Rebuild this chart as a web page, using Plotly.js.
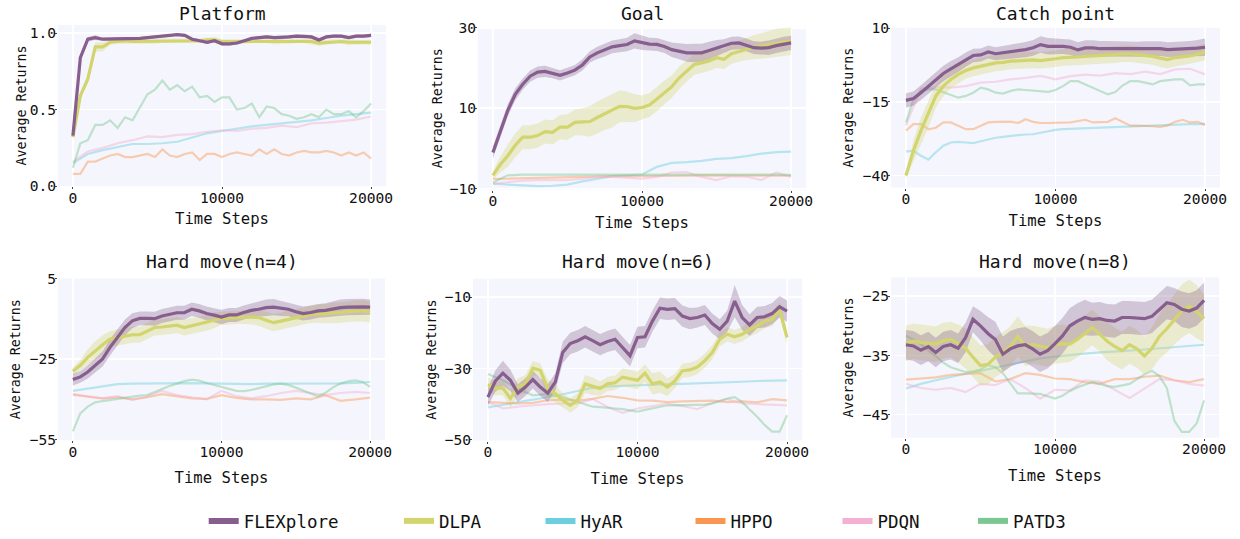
<!DOCTYPE html>
<html>
<head>
<meta charset="utf-8">
<script src="https://cdn.plot.ly/plotly-3.0.1.min.js"></script>
<style>
html,body{margin:0;padding:0;background:#ffffff;}
#chart{width:1240px;height:539px;}
</style>
</head>
<body>
<div id="chart"></div>
<script>
// ---------------- data ----------------
const steps500 = [0,500,1000,1500,2000,2500,3000,3500,4000,4500,5000,5500,6000,6500,7000,7500,8000,8500,9000,9500,10000,10500,11000,11500,12000,12500,13000,13500,14000,14500,15000,15500,16000,16500,17000,17500,18000,18500,19000,19500,20000];
const steps1000 = [0,1000,2000,3000,4000,5000,6000,7000,8000,9000,10000,11000,12000,13000,14000,15000,16000,17000,18000,19000,20000];
const methods = ['FLEXplore','DLPA','HyAR','HPPO','PDQN','PATD3'];
const panelTitles = ['Platform','Goal','Catch point','Hard move(n=4)','Hard move(n=6)','Hard move(n=8)'];
const xTickVals = [0,10000,20000];
const yTickVals = [[0,0.5,1.0],[-10,10,30],[-40,-15,10],[-55,-25,5],[-50,-30,-10],[-45,-35,-25]];

// Platform
const platformFlex = [0.33,0.84,0.96,0.97,0.96,0.96,0.965,0.965,0.965,0.965,0.97,0.975,0.98,0.985,0.99,0.985,0.96,0.95,0.94,0.95,0.93,0.93,0.935,0.95,0.965,0.97,0.975,0.97,0.97,0.975,0.98,0.98,0.975,0.955,0.975,0.98,0.98,0.97,0.98,0.98,0.985];
const platformFlexStd = [0.01,0.02,0.015,0.015,0.01,0.01,0.01,0.01,0.01,0.01,0.01,0.01,0.01,0.01,0.008,0.01,0.01,0.01,0.01,0.01,0.012,0.012,0.012,0.01,0.01,0.01,0.01,0.01,0.01,0.01,0.01,0.01,0.01,0.012,0.01,0.01,0.01,0.01,0.01,0.01,0.01];
const platformDlpa = [0.32,0.59,0.70,0.91,0.91,0.94,0.945,0.95,0.945,0.945,0.945,0.945,0.95,0.95,0.95,0.95,0.95,0.95,0.955,0.955,0.945,0.945,0.945,0.945,0.95,0.95,0.95,0.945,0.945,0.945,0.95,0.95,0.945,0.935,0.94,0.945,0.945,0.94,0.94,0.94,0.94];
const platformDlpaStd = [0.01,0.02,0.02,0.03,0.03,0.015,0.015,0.02,0.015,0.015,0.015,0.015,0.015,0.015,0.015,0.015,0.015,0.015,0.015,0.02,0.015,0.015,0.015,0.015,0.015,0.015,0.015,0.02,0.015,0.015,0.015,0.015,0.02,0.02,0.015,0.015,0.015,0.02,0.015,0.015,0.015];
const platformHyar = [0.15,0.21,0.235,0.255,0.275,0.275,0.28,0.29,0.32,0.345,0.36,0.375,0.39,0.40,0.41,0.42,0.43,0.445,0.46,0.47,0.48];
const platformHppo = [0.08,0.08,0.16,0.16,0.18,0.20,0.21,0.19,0.19,0.20,0.21,0.19,0.24,0.20,0.19,0.21,0.22,0.17,0.21,0.21,0.19,0.21,0.22,0.21,0.20,0.24,0.21,0.24,0.21,0.20,0.22,0.23,0.22,0.22,0.23,0.22,0.20,0.22,0.20,0.22,0.18];
const platformPdqn = [0.16,0.226,0.25,0.28,0.30,0.325,0.32,0.335,0.34,0.355,0.365,0.36,0.375,0.38,0.395,0.385,0.41,0.415,0.425,0.435,0.455];
const platformPatd3 = [0.12,0.28,0.30,0.40,0.40,0.43,0.38,0.45,0.43,0.52,0.60,0.63,0.69,0.63,0.66,0.62,0.65,0.58,0.59,0.55,0.58,0.58,0.50,0.51,0.54,0.45,0.52,0.51,0.47,0.46,0.44,0.45,0.47,0.45,0.50,0.47,0.47,0.49,0.45,0.49,0.54];

// Goal
const goalFlex = [-1.0,4.5,9.5,13.5,16.0,18.0,19.0,19.2,18.8,18.2,18.8,19.5,20.8,22.8,23.8,24.5,25.3,25.6,25.9,26.8,26.3,26.0,25.9,25.4,24.6,24.2,23.8,23.8,23.8,24.4,25.0,25.4,26.2,26.3,25.8,25.1,25.0,25.1,25.6,26.0,26.3];
const goalFlexStd = [1.5,1.5,1.5,1.5,1.4,1.4,1.4,1.4,1.3,1.3,1.3,1.3,1.4,1.4,1.5,1.6,1.6,1.6,1.7,1.9,1.8,1.6,1.6,1.6,1.8,2.0,2.2,2.3,2.3,2.2,2.0,1.8,1.6,1.6,1.6,1.6,1.6,1.8,1.8,1.8,1.8];
const goalDlpa = [-6.7,-4.0,-1.8,0.8,2.8,2.8,3.2,4.2,4.0,5.3,5.3,6.5,6.6,6.7,7.7,8.6,9.4,10.5,10.4,10.0,10.2,10.8,12.3,13.9,15.4,17.6,19.3,20.9,21.3,21.8,22.6,22.2,23.6,24.2,24.8,25.2,25.5,25.9,26.3,26.5,26.7];
const goalDlpaStd = [1.0,2.0,2.8,3.0,3.0,3.0,3.0,3.0,3.0,3.0,3.2,3.2,3.4,3.8,4.0,4.0,4.2,4.0,3.8,3.5,3.0,3.0,3.0,3.0,2.8,2.8,2.6,2.6,2.5,2.5,2.5,2.5,2.5,2.6,2.8,3.0,3.2,3.4,3.5,3.5,3.4];
const goalHyar = [-8.8,-9.0,-9.2,-9.4,-9.3,-9.0,-8.2,-7.5,-6.9,-6.7,-6.5,-4.6,-3.6,-3.4,-3.1,-2.6,-2.4,-1.9,-1.3,-0.9,-0.8];
const goalHppo = [-7.6,-7.5,-7.4,-7.3,-7.2,-7.1,-7.0,-7.0,-6.9,-6.9,-6.9,-6.8,-6.8,-6.8,-6.7,-6.7,-6.7,-6.7,-6.7,-6.7,-6.8];
const goalPdqn = [-8.8,-8.4,-8.0,-7.9,-7.9,-7.9,-7.5,-7.1,-7.1,-7.3,-7.5,-7.1,-6.0,-5.9,-7.1,-7.9,-6.9,-7.0,-7.9,-6.0,-7.1];
const goalPatd3 = [-8.5,-6.7,-6.5,-6.5,-6.5,-6.4,-6.4,-6.5,-6.5,-6.5,-6.5,-6.5,-6.5,-6.4,-6.4,-6.5,-6.5,-6.4,-6.5,-6.5,-6.6];

// Catch point
const catchFlex = [-14.5,-13.9,-11.9,-9.7,-7.4,-5.4,-3.8,-2.4,-0.7,0.7,0.9,1.9,1.3,1.6,1.9,2.4,2.7,3.3,4.4,3.8,3.8,3.8,3.5,2.6,3.3,3.3,3.0,3.0,2.9,2.8,2.8,2.8,2.9,3.0,3.0,2.7,2.8,2.8,3.0,3.2,3.5];
const catchFlexStd = [2.4,2.4,2.5,2.5,2.5,2.6,2.6,2.5,2.4,2.3,2.2,2.2,2.2,2.3,2.4,2.5,2.6,2.7,2.8,2.8,2.6,2.6,2.6,2.6,2.6,2.6,2.6,2.6,2.6,2.6,2.6,2.6,2.6,2.5,2.5,2.5,2.5,2.5,2.6,2.8,3.0];
const catchDlpa = [-40.0,-31.6,-24.8,-19.2,-13.0,-9.7,-7.4,-5.7,-4.4,-3.5,-2.9,-2.4,-1.8,-1.6,-1.2,-1.1,-1.0,-0.8,-1.0,-0.8,-0.4,0.0,0.0,0.2,0.4,0.5,0.6,0.9,1.0,1.3,1.3,1.0,0.8,0.4,-0.2,-0.7,0.0,0.3,0.6,1.2,1.9];
const catchDlpaStd = [1.0,3.5,4.5,4.5,4.0,3.5,3.0,3.0,2.8,2.8,2.8,2.8,2.8,2.8,2.8,2.8,2.8,2.8,2.8,2.8,2.8,2.8,2.8,2.8,2.8,2.8,2.8,2.8,2.8,2.8,2.8,2.8,2.8,2.8,3.0,3.0,3.0,2.8,2.8,2.8,2.8];
const catchHyar = [-31.9,-31.6,-33.3,-34.6,-32.1,-29.9,-28.8,-28.6,-28.8,-29.0,-28.4,-27.8,-27.2,-26.9,-26.5,-26.3,-26.1,-26.0,-25.5,-25.0,-24.5,-24.3,-24.2,-24.0,-23.8,-23.7,-23.6,-23.5,-23.4,-23.3,-23.2,-23.1,-23.1,-23.0,-23.0,-22.9,-22.8,-22.7,-22.6,-22.6,-22.5];
const catchHppo = [-24.8,-22.6,-22.6,-24.3,-23.8,-22.0,-22.0,-23.1,-24.3,-24.3,-23.1,-22.0,-21.8,-21.8,-21.7,-22.2,-20.9,-21.8,-22.2,-22.2,-22.2,-22.0,-22.0,-21.5,-21.1,-22.0,-22.0,-21.8,-20.6,-21.8,-23.1,-23.1,-23.1,-23.3,-23.5,-23.0,-21.8,-21.1,-22.0,-21.8,-22.9];
const catchPdqn = [-23.0,-10.5,-10.0,-10.2,-9.7,-8.5,-8.2,-7.4,-6.9,-6.2,-7.4,-6.3,-5.8,-6.1,-5.3,-5.6,-4.8,-5.6,-4.0,-3.8,-5.7];
const catchPatd3 = [-22.0,-14.2,-11.3,-10.8,-10.8,-11.7,-12.5,-13.6,-13.0,-11.9,-10.2,-10.8,-11.9,-12.2,-11.3,-10.8,-11.0,-11.2,-11.3,-11.6,-11.0,-9.7,-8.0,-8.0,-9.1,-10.2,-11.3,-12.5,-11.7,-9.4,-8.0,-8.0,-8.5,-9.1,-8.0,-7.7,-7.4,-7.4,-9.4,-9.1,-9.1];

// Hard move (n=4)
const hm4Flex = [-32.6,-31.6,-29.8,-27.3,-24.9,-20.6,-16.9,-13.2,-10.7,-9.8,-9.8,-9.9,-8.9,-8.3,-7.7,-7.7,-6.4,-7.0,-8.0,-8.6,-9.3,-8.5,-8.5,-7.6,-6.8,-6.4,-5.8,-5.6,-6.1,-6.4,-7.3,-8.0,-7.6,-7.0,-6.8,-6.2,-5.8,-5.6,-5.5,-5.5,-5.6];
const hm4FlexStd = [2.2,2.2,2.4,2.6,2.8,3.0,3.0,3.0,2.8,2.6,2.6,2.6,2.6,2.6,2.6,2.6,2.5,2.6,2.6,2.6,2.7,2.6,2.6,2.6,2.6,2.8,3.0,3.0,2.8,2.6,2.6,2.6,2.6,2.6,2.6,2.8,3.0,3.0,3.0,3.0,2.8];
const hm4Dlpa = [-29.5,-27.3,-24.3,-21.8,-19.6,-17.5,-16.9,-16.3,-15.9,-15.9,-14.4,-13.2,-13.0,-12.6,-12.3,-13.2,-12.6,-12.0,-11.4,-10.5,-9.8,-9.6,-9.5,-9.3,-9.3,-9.5,-10.5,-11.4,-10.8,-10.1,-9.5,-8.9,-8.3,-8.0,-8.0,-7.7,-7.7,-7.3,-7.0,-7.0,-7.3];
const hm4DlpaStd = [1.5,2.0,3.0,3.5,3.5,3.0,3.0,3.0,3.0,3.0,3.0,3.0,3.0,3.0,3.0,3.0,3.0,3.0,3.0,3.0,2.5,2.5,2.5,2.5,2.8,3.0,3.2,3.2,3.2,3.2,3.2,3.2,3.2,3.4,3.6,3.8,3.8,3.8,4.0,4.0,4.0];
const hm4Hyar = [-36.8,-35.9,-35.0,-34.3,-34.1,-34.0,-33.9,-33.9,-33.9,-34.0,-34.1,-34.2,-34.3,-34.1,-34.1,-34.1,-34.1,-34.1,-34.0,-33.8,-33.5];
const hm4Hppo = [-38.0,-39.0,-39.6,-39.2,-40.0,-39.2,-38.0,-38.7,-39.6,-39.8,-38.4,-39.4,-40.0,-40.0,-40.2,-39.6,-40.0,-38.4,-40.5,-40.0,-39.3];
const hm4Pdqn = [-38.4,-38.8,-39.6,-38.8,-40.2,-39.0,-36.8,-38.4,-39.2,-40.0,-36.8,-38.8,-39.6,-38.8,-37.6,-36.8,-37.6,-38.4,-37.6,-37.2,-37.6];
const hm4Patd3 = [-51.9,-45.2,-42.7,-41.1,-40.6,-40.2,-39.6,-39.2,-38.8,-38.6,-38.4,-37.2,-35.9,-35.0,-34.1,-33.2,-32.6,-33.0,-33.9,-34.6,-35.3,-36.0,-36.8,-36.9,-36.5,-35.8,-35.0,-34.4,-34.1,-34.6,-35.6,-36.8,-37.8,-38.8,-37.5,-35.5,-34.1,-33.3,-32.9,-33.5,-35.3];

// Hard move (n=6)
const hm6Flex = [-38.0,-33.5,-31.3,-33.3,-36.9,-35.2,-33.1,-35.2,-36.9,-33.8,-25.5,-23.0,-22.2,-21.1,-22.2,-23.3,-22.4,-21.8,-24.1,-26.4,-21.3,-21.1,-16.7,-13.1,-13.4,-13.2,-15.3,-16.0,-15.7,-15.0,-17.4,-19.0,-16.7,-11.1,-15.7,-17.8,-15.7,-15.5,-14.6,-12.7,-13.9];
const hm6FlexStd = [2.5,3.0,3.5,3.0,2.5,2.5,2.5,2.5,2.5,2.5,3.0,3.0,3.0,3.0,3.0,3.0,3.0,3.0,3.0,3.0,3.0,3.0,3.0,3.0,3.0,3.0,3.0,3.0,2.8,2.8,2.8,2.8,3.0,4.5,3.5,3.0,3.0,3.0,3.0,3.0,3.0];
const hm6Dlpa = [-34.5,-35.5,-35.5,-38.4,-35.2,-34.3,-29.9,-30.5,-35.6,-37.0,-38.9,-40.3,-38.9,-34.3,-35.0,-35.6,-34.3,-34.0,-32.4,-32.8,-33.3,-31.3,-34.3,-33.8,-35.2,-33.5,-30.6,-30.4,-29.6,-27.8,-25.5,-21.8,-20.4,-21.1,-20.4,-19.0,-18.1,-16.7,-16.2,-13.4,-21.3];
const hm6DlpaStd = [2.0,2.0,2.0,2.5,2.5,2.5,2.0,2.0,2.5,2.5,2.0,2.0,2.0,2.5,2.5,2.0,2.0,2.0,2.5,2.5,2.5,2.5,3.0,3.0,2.5,2.0,2.0,2.0,2.0,2.0,2.0,2.0,2.0,2.0,2.0,2.0,2.0,2.0,2.0,2.0,2.0];
const hm6Hyar = [-40.9,-40.2,-39.4,-38.9,-38.0,-37.2,-36.2,-35.4,-35.0,-34.8,-34.6,-34.5,-34.4,-34.3,-34.2,-34.0,-33.9,-33.7,-33.5,-33.4,-33.3];
const hm6Hppo = [-39.4,-39.6,-39.8,-39.6,-38.9,-38.7,-39.0,-38.5,-37.7,-38.2,-38.9,-39.0,-39.4,-39.2,-39.1,-39.0,-39.4,-39.2,-39.5,-38.6,-38.9];
const hm6Pdqn = [-39.4,-41.2,-40.7,-40.3,-40.0,-39.8,-39.8,-38.5,-40.8,-42.4,-41.2,-40.5,-39.8,-40.5,-41.4,-39.6,-38.6,-39.8,-40.0,-40.2,-40.3];
const hm6Patd3 = [-31.5,-32.4,-33.3,-34.5,-35.6,-36.6,-37.5,-37.3,-37.2,-37.6,-38.0,-38.7,-39.4,-40.1,-40.7,-40.8,-40.9,-41.2,-41.4,-41.8,-42.1,-41.6,-41.2,-40.7,-40.3,-40.3,-40.3,-40.3,-40.3,-40.1,-39.8,-39.1,-38.4,-38.0,-39.4,-41.5,-43.5,-45.8,-47.7,-47.7,-43.1];

// Hard move (n=8)
const hm8Flex = [-33.2,-33.4,-34.1,-33.5,-34.5,-33.5,-33.2,-33.8,-32.0,-28.9,-30.0,-31.3,-32.3,-34.8,-33.9,-33.4,-33.2,-33.9,-34.8,-34.2,-33.0,-31.7,-30.0,-29.2,-28.6,-28.9,-28.8,-29.1,-29.2,-28.6,-28.6,-28.7,-28.8,-28.4,-27.2,-26.1,-26.4,-27.2,-27.5,-27.0,-25.7];
const hm8FlexStd = [2.5,2.5,2.5,2.5,2.5,2.5,2.5,2.5,2.5,2.2,2.5,2.8,3.0,3.0,3.0,3.0,3.0,3.0,3.0,3.0,3.0,3.0,3.0,3.0,3.0,2.8,2.8,2.8,2.8,2.8,2.8,2.8,2.8,2.8,2.8,2.8,2.8,3.0,3.0,3.0,3.0];
const hm8Dlpa = [-33.0,-32.6,-32.8,-33.0,-33.1,-32.5,-32.3,-33.0,-33.8,-35.3,-36.7,-36.5,-35.3,-34.5,-33.5,-31.8,-33.4,-33.2,-33.4,-33.7,-33.2,-33.0,-33.1,-32.3,-31.3,-30.3,-31.4,-32.6,-33.5,-34.2,-33.2,-33.9,-35.1,-33.8,-31.8,-30.5,-29.0,-27.5,-26.7,-27.6,-28.8];
const hm8DlpaStd = [3.0,3.0,3.0,3.0,3.0,3.0,3.0,3.2,3.4,3.4,3.4,3.4,3.4,3.4,3.4,3.4,3.4,3.2,3.2,3.2,3.2,3.2,3.0,3.0,3.0,3.0,3.0,3.2,3.2,3.2,3.2,3.2,3.2,3.5,3.8,4.0,4.2,4.5,4.5,4.5,4.0];
const hm8Hyar = [-40.6,-39.8,-39.2,-38.6,-38.1,-37.6,-37.1,-36.5,-36.0,-35.5,-35.2,-34.9,-34.7,-34.5,-34.4,-34.2,-34.0,-33.8,-33.6,-33.4,-33.2];
const hm8Hppo = [-39.1,-38.9,-38.7,-38.3,-38.2,-38.0,-39.4,-39.0,-38.0,-38.3,-38.9,-39.0,-39.5,-39.8,-39.0,-39.0,-38.6,-38.4,-39.2,-39.5,-39.0];
const hm8Pdqn = [-39.8,-40.5,-40.8,-40.5,-41.2,-39.8,-40.0,-39.0,-40.5,-42.3,-40.8,-40.9,-39.2,-39.4,-40.8,-42.2,-40.6,-39.0,-39.2,-39.8,-40.1];
const hm8Patd3 = [-31.7,-32.3,-33.1,-34.2,-35.1,-36.2,-37.0,-37.4,-37.8,-37.7,-37.4,-36.6,-37.0,-38.0,-39.8,-41.4,-41.4,-41.4,-41.5,-41.9,-42.3,-41.8,-41.0,-40.4,-39.9,-39.5,-39.8,-40.2,-40.3,-40.0,-39.8,-39.0,-38.2,-37.6,-38.5,-40.5,-46.0,-47.9,-47.9,-46.5,-42.6];

// ---------------- styling ----------------
const colors = {FLEXplore:'#875e8d', DLPA:'#d2d46e', HyAR:'#6ccfde', HPPO:'#fa9650', PDQN:'#f4b0d0', PATD3:'#7ac791'};
const rgb = {FLEXplore:'135,94,141', DLPA:'210,212,110', HyAR:'108,207,222', HPPO:'250,150,80', PDQN:'244,176,208', PATD3:'122,199,145'};
const FONT = 'DejaVu Sans Mono, monospace';
const BG = '#f5f6fd';

const panels = [
  {flex:platformFlex, flexStd:platformFlexStd, dlpa:platformDlpa, dlpaStd:platformDlpaStd,
   base:[['HyAR',steps1000,platformHyar],['HPPO',steps500,platformHppo],['PDQN',steps1000,platformPdqn],['PATD3',steps500,platformPatd3]],
   yr:[0,1.054], fmt:'.1f', px:[58,386], py:[25,187.5], ysoff:0, xsoff:7},
  {flex:goalFlex, flexStd:goalFlexStd, dlpa:goalDlpa, dlpaStd:goalDlpaStd,
   base:[['HyAR',steps1000,goalHyar],['HPPO',steps1000,goalHppo],['PDQN',steps1000,goalPdqn],['PATD3',steps1000,goalPatd3]],
   yr:[-10.25,30.3], fmt:'d', px:[478,806], py:[27,191], ysoff:4, xsoff:7},
  {flex:catchFlex, flexStd:catchFlexStd, dlpa:catchDlpa, dlpaStd:catchDlpaStd,
   base:[['HyAR',steps500,catchHyar],['HPPO',steps500,catchHppo],['PDQN',steps1000,catchPdqn],['PATD3',steps500,catchPatd3]],
   yr:[-44.1,10.1], fmt:'d', px:[891,1220], py:[28,189], ysoff:6, xsoff:7},
  {flex:hm4Flex, flexStd:hm4FlexStd, dlpa:hm4Dlpa, dlpaStd:hm4DlpaStd,
   base:[['HyAR',steps1000,hm4Hyar],['HPPO',steps1000,hm4Hppo],['PDQN',steps1000,hm4Pdqn],['PATD3',steps500,hm4Patd3]],
   yr:[-55.2,5.1], fmt:'d', px:[58,385], py:[280.5,443.5], ysoff:6, xsoff:12},
  {flex:hm6Flex, flexStd:hm6FlexStd, dlpa:hm6Dlpa, dlpaStd:hm6DlpaStd,
   base:[['HyAR',steps1000,hm6Hyar],['HPPO',steps1000,hm6Hppo],['PDQN',steps1000,hm6Pdqn],['PATD3',steps500,hm6Patd3]],
   yr:[-50.2,-4.8], fmt:'d', px:[473,802], py:[280.7,443.9], ysoff:5, xsoff:12},
  {flex:hm8Flex, flexStd:hm8FlexStd, dlpa:hm8Dlpa, dlpaStd:hm8DlpaStd,
   base:[['HyAR',steps1000,hm8Hyar],['HPPO',steps1000,hm8Hppo],['PDQN',steps1000,hm8Pdqn],['PATD3',steps500,hm8Patd3]],
   yr:[-48.9,-21.8], fmt:'d', px:[891,1219], py:[279.3,441], ysoff:6, xsoff:12}
];

const W = 1240, H = 539;
const traces = [];
const layout = {
  width: W, height: H,
  margin: {l:0, r:0, t:0, b:0},
  paper_bgcolor: '#ffffff',
  plot_bgcolor: BG,
  font: {family: FONT, color: '#111111', size: 14},
  showlegend: true,
  annotations: [],
};

panels.forEach((p, i) => {
  const n = i + 1;
  const xa = 'x' + (n === 1 ? '' : n), ya = 'y' + (n === 1 ? '' : n);
  const xk = 'xaxis' + (n === 1 ? '' : n), yk = 'yaxis' + (n === 1 ? '' : n);

  // faded baselines
  p.base.forEach(([name, xs, ys]) => {
    traces.push({x: xs, y: ys, xaxis: xa, yaxis: ya, mode: 'lines', name: name, showlegend: false,
      line: {color: 'rgba(' + rgb[name] + ',0.45)', width: 2.2}, hoverinfo: 'skip'});
  });
  // bands
  [['DLPA', p.dlpa, p.dlpaStd], ['FLEXplore', p.flex, p.flexStd]].forEach(([name, m, s]) => {
    traces.push({x: steps500, y: m.map((v, k) => v - s[k]), xaxis: xa, yaxis: ya, mode: 'lines',
      line: {width: 0, color: 'rgba(0,0,0,0)'}, showlegend: false, hoverinfo: 'skip'});
    traces.push({x: steps500, y: m.map((v, k) => v + s[k]), xaxis: xa, yaxis: ya, mode: 'lines',
      line: {width: 0, color: 'rgba(0,0,0,0)'}, fill: 'tonexty',
      fillcolor: 'rgba(' + rgb[name] + ',0.32)', showlegend: false, hoverinfo: 'skip'});
  });
  // mean lines
  traces.push({x: steps500, y: p.dlpa, xaxis: xa, yaxis: ya, mode: 'lines', name: 'DLPA', showlegend: false,
    line: {color: colors.DLPA, width: 3.2}});
  traces.push({x: steps500, y: p.flex, xaxis: xa, yaxis: ya, mode: 'lines', name: 'FLEXplore', showlegend: false,
    line: {color: colors.FLEXplore, width: 3.2}});

  layout[xk] = {
    domain: [p.px[0] / W, p.px[1] / W], anchor: ya, range: [-1000, 21000],
    tickvals: xTickVals, tickformat: 'd', showgrid: true, gridcolor: '#ffffff', gridwidth: 1.6,
    zeroline: false, showline: false, ticks: 'outside', ticklen: 2, tickcolor: '#444',
    ticklabelstandoff: -4,
    tickfont: {family: FONT, size: 14.6, color: '#111'},
    title: {text: 'Time Steps', font: {family: FONT, size: 15.6, color: '#111'}, standoff: p.xsoff + 1}
  };
  layout[yk] = {
    domain: [1 - p.py[1] / H, 1 - p.py[0] / H], anchor: xa, range: p.yr,
    tickvals: yTickVals[i], tickformat: p.fmt, showgrid: true, gridcolor: '#ffffff', gridwidth: 1.6,
    zeroline: false, showline: false, ticks: 'outside', ticklen: 2, tickcolor: '#444',
    ticklabelstandoff: -4,
    tickfont: {family: FONT, size: 14.6, color: '#111'},
    title: {text: 'Average Returns', font: {family: FONT, size: 13.3, color: '#111'}, standoff: p.ysoff}
  };
  layout.annotations.push({
    text: panelTitles[i], xref: 'paper', yref: 'paper',
    x: (p.px[0] + p.px[1]) / 2 / W, y: 1 - (i < 3 ? 13.5 : 263.5) / H,
    xanchor: 'center', yanchor: 'middle', showarrow: false,
    font: {family: FONT, size: 18, color: '#111'}
  });
});

// legend: one legend per method, laid out in a row
const legendSwatchX = [206.7, 402, 543.5, 693.5, 840.5, 976];
methods.forEach((m, i) => {
  const key = i === 0 ? 'legend' : 'legend' + (i + 1);
  traces.push({x: [null], y: [null], mode: 'lines', name: m, legend: key, showlegend: true,
    line: {color: colors[m], width: 6}, hoverinfo: 'skip'});
  layout[key] = {
    x: (legendSwatchX[i] - 3) / W, y: 1 - 525 / H, xanchor: 'left', yanchor: 'middle',
    orientation: 'h', bgcolor: 'rgba(0,0,0,0)', borderwidth: 0,
    font: {family: FONT, size: 17.5, color: '#111'}
  };
});

Plotly.newPlot('chart', traces, layout, {displayModeBar: false, staticPlot: true});
</script>
</body>
</html>
